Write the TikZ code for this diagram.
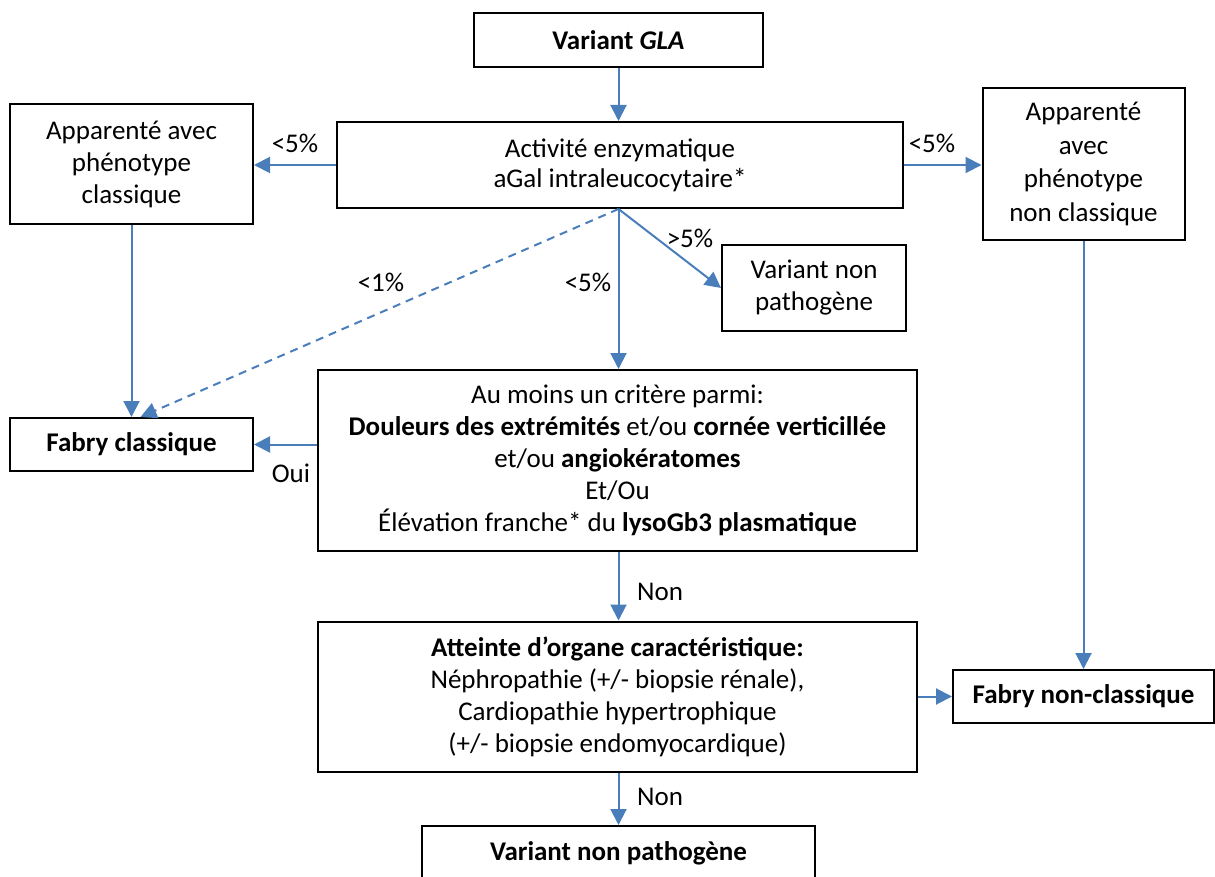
\documentclass[tikz,border=0pt]{standalone}
\usepackage{fontspec}
\setmainfont{Carlito}
\usetikzlibrary{arrows.meta}
\definecolor{arrblue}{HTML}{4A7EBB}
\tikzset{
  box/.style={draw=black, line width=2pt, align=center, inner sep=2pt,
    font=\fontsize{27}{32}\selectfont},
  arr/.style={draw=arrblue, line width=2pt, -{Triangle[width=16pt,length=16pt]}},
  lbl/.style={font=\fontsize{27}{32}\selectfont, inner sep=0pt},
}
\begin{document}
\begin{tikzpicture}[x=1pt,y=-1pt]
\useasboundingbox (0,0) rectangle (1215,877);
\clip (0,0) rectangle (1215,877);
\node[box, minimum width=289pt, minimum height=54pt] (gla) at (618.5,40) {\textbf{Variant \textit{GLA}}};
\node[box, minimum width=566pt, minimum height=86pt, font=\fontsize{27}{30}\selectfont] (act) at (620,165) {Activité enzymatique\\aGal intraleucocytaire*};
\node[box, minimum width=243pt, minimum height=120pt] (appc) at (131.5,164) {Apparenté avec\\phénotype\\classique};
\node[box, minimum width=202pt, minimum height=152pt, font=\fontsize{27}{33.5}\selectfont] (appnc) at (1083.5,164) {Apparenté\\avec\\phénotype\\non classique};
\node[box, minimum width=184pt, minimum height=86pt] (vnp1) at (814,288) {Variant non\\pathogène};
\node[box, minimum width=243pt, minimum height=53pt] (fc) at (131.5,444.5) {\textbf{Fabry classique}};
\node[box, minimum width=599pt, minimum height=181pt] (crit) at (617.5,460.5) {Au moins un critère parmi:\\\textbf{Douleurs des extrémités} et/ou \textbf{cornée verticillée}\\et/ou \textbf{angiokératomes}\\Et/Ou\\Élévation franche* du \textbf{lysoGb3 plasmatique}};
\node[box, minimum width=599pt, minimum height=150pt] (org) at (617.5,696.5) {\textbf{Atteinte d’organe caractéristique:}\\Néphropathie (+/- biopsie rénale),\\Cardiopathie hypertrophique\\(+/- biopsie endomyocardique)};
\node[box, minimum width=261pt, minimum height=53pt] (fnc) at (1083.5,696.5) {\textbf{Fabry non-classique}};
\node[box, minimum width=393pt, minimum height=54pt] (vnp2) at (618.5,853) {\textbf{Variant non pathogène}};

\coordinate (hub) at (act.south -| gla.south);
\draw[arr] (gla.south) -- (gla.south |- act.north);
\draw[arr] (act.west) -- (act.west -| appc.east);
\draw[arr] (act.east) -- (act.east -| appnc.west);
\draw[arr] (hub) -- (hub |- crit.north);
\draw[arr] (hub) -- (vnp1.west);
\draw[arr, dash pattern=on 8pt off 6pt] (hub) -- ([xshift=9pt]fc.north);
\draw[arr] (appc.south) -- (fc.north);
\draw[arr] (crit.west |- fc.east) -- (fc.east);
\draw[arr] (crit.south -| hub) -- (org.north -| hub);
\draw[arr] (org.east |- fnc.west) -- (fnc.west);
\draw[arr] (appnc.south) -- (fnc.north);
\draw[arr] (org.south -| hub) -- (vnp2.north -| hub);

\node[lbl] (l1) at (295,143) {<5\%};
\node[lbl] (l2) at (932,143) {<5\%};
\node[lbl] (l3) at (381,282) {<1\%};
\node[lbl] (l4) at (588,282) {<5\%};
\node[lbl] (l5) at (690,238) {>5\%};
\node[lbl] (l6) at (291,473) {Oui};
\node[lbl] (l7) at (660,592) {Non};
\node[lbl] (l8) at (660,797) {Non};
\end{tikzpicture}
\end{document}
